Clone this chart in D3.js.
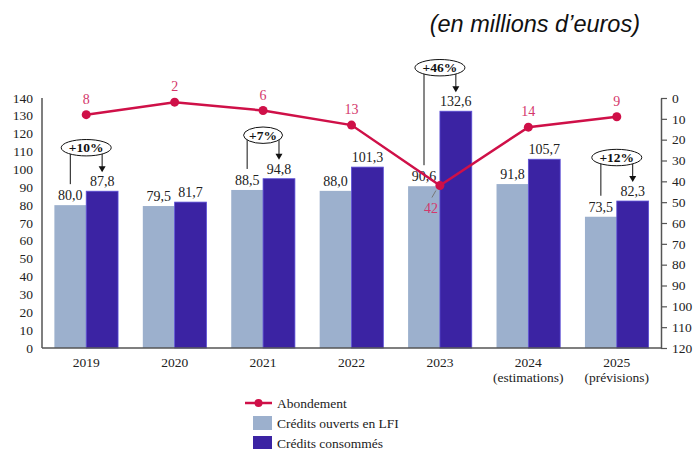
<!DOCTYPE html>
<html>
<head>
<meta charset="utf-8">
<script src="https://cdn.jsdelivr.net/npm/d3@7"></script>
<style>
  html, body { margin: 0; padding: 0; background: #fff; }
  svg { display: block; font-family: "Liberation Serif", "DejaVu Serif", serif; }
</style>
</head>
<body>
<div id="chart"></div>
<script>
// Crédits ouverts / consommés + abondement, 2019-2025

const years = ['2019', '2020', '2021', '2022', '2023', '2024', '2025'];
const yearSubLabels = ['', '', '', '', '', '(estimations)', '(prévisions)'];
const creditsLFI = [80.0, 79.5, 88.5, 88.0, 90.6, 91.8, 73.5];
const creditsConsommes = [87.8, 81.7, 94.8, 101.3, 132.6, 105.7, 82.3];
const abondement = [8, 2, 6, 13, 42, 14, 9];
const growthYears = ['2019', '2021', '2023', '2025'];
const growthLabels = ['+10%', '+7%', '+46%', '+12%'];
const leftTicks = d3.range(0, 141, 10);
const rightTicks = d3.range(0, 121, 10);

const COLORS = {
    lfi: '#9cb0cd',
    conso: '#3b23a3',
    line: '#cf1048',
    lineLabel: '#d4376b',
    axis: '#555',
    text: '#222'
};

const width = 693, height = 449;
const plot = { left: 42, right: 661, top: 98, bottom: 348 };

const svg = d3.select('#chart').append('svg')
    .attr('width', width)
    .attr('height', height);

const fmt = v => v.toFixed(1).replace('.', ',');

// Scales
const x0 = d3.scaleBand()
    .domain(years)
    .range([plot.left, plot.right])
    .paddingInner(0.28)
    .paddingOuter(0.14);

const x1 = d3.scaleBand()
    .domain(['lfi', 'conso'])
    .range([0, x0.bandwidth()]);

const yLeft = d3.scaleLinear().domain([0, 140]).range([plot.bottom, plot.top]);
const yRight = d3.scaleLinear().domain([0, 120]).range([plot.top, plot.bottom]);

const center = y => x0(y) + x0.bandwidth() / 2;

// Bars
const groups = svg.append('g').selectAll('g')
    .data(years.map((y, i) => ({ year: y, lfi: creditsLFI[i], conso: creditsConsommes[i] })))
    .join('g')
    .attr('transform', d => `translate(${x0(d.year)},0)`);

groups.append('rect')
    .attr('x', x1('lfi'))
    .attr('y', d => yLeft(d.lfi))
    .attr('width', x1.bandwidth())
    .attr('height', d => yLeft(0) - yLeft(d.lfi))
    .attr('fill', COLORS.lfi);

groups.append('rect')
    .attr('x', x1('conso'))
    .attr('y', d => yLeft(d.conso))
    .attr('width', x1.bandwidth())
    .attr('height', d => yLeft(0) - yLeft(d.conso))
    .attr('fill', COLORS.conso)
    .attr('stroke', '#5b4fd6')
    .attr('stroke-width', 0.8);

// Bar value labels
groups.append('text')
    .attr('x', x1('lfi') + x1.bandwidth() / 2)
    .attr('y', d => yLeft(d.lfi) - 5)
    .attr('text-anchor', 'middle')
    .attr('font-size', '14px')
    .attr('fill', COLORS.text)
    .text(d => fmt(d.lfi));

groups.append('text')
    .attr('x', x1('conso') + x1.bandwidth() / 2)
    .attr('y', d => yLeft(d.conso) - 5)
    .attr('text-anchor', 'middle')
    .attr('font-size', '14px')
    .attr('fill', COLORS.text)
    .text(d => fmt(d.conso));

// Axes
svg.append('line')
    .attr('x1', plot.left).attr('x2', plot.left)
    .attr('y1', plot.top).attr('y2', plot.bottom)
    .attr('stroke', COLORS.axis).attr('stroke-width', 1.5);

svg.append('g')
    .selectAll('text')
    .data(leftTicks)
    .join('text')
    .attr('x', 33)
    .attr('y', d => yLeft(d) + 4.5)
    .attr('text-anchor', 'end')
    .attr('font-size', '13.5px')
    .attr('fill', COLORS.text)
    .text(d => d);

const rightAxis = svg.append('g')
    .attr('transform', `translate(${plot.right},0)`)
    .call(d3.axisRight(yRight).tickValues(rightTicks).tickSize(6).tickPadding(5).tickSizeOuter(0));
rightAxis.select('.domain').attr('stroke', COLORS.axis).attr('stroke-width', 1.5);
rightAxis.selectAll('.tick line').attr('stroke', COLORS.axis).attr('stroke-width', 1.2);
rightAxis.selectAll('.tick text')
    .attr('font-family', '"Liberation Serif", serif')
    .attr('font-size', '13.5px')
    .attr('fill', COLORS.text);

svg.append('line')
    .attr('x1', plot.left).attr('x2', plot.right + 1)
    .attr('y1', plot.bottom).attr('y2', plot.bottom)
    .attr('stroke', COLORS.axis).attr('stroke-width', 1.5);

// Category labels
const xl = svg.append('g');
xl.selectAll('text.year')
    .data(years)
    .join('text')
    .attr('class', 'year')
    .attr('x', d => center(d))
    .attr('y', 367)
    .attr('text-anchor', 'middle')
    .attr('font-size', '13.5px')
    .attr('fill', COLORS.text)
    .text(d => d);
xl.selectAll('text.sub')
    .data(years.filter((y, i) => yearSubLabels[i]))
    .join('text')
    .attr('class', 'sub')
    .attr('x', d => center(d))
    .attr('y', 382)
    .attr('text-anchor', 'middle')
    .attr('font-size', '13.5px')
    .attr('fill', COLORS.text)
    .text(d => yearSubLabels[years.indexOf(d)]);

// Growth annotations
const ann = svg.append('g');
growthYears.forEach((yr, k) => {
    const i = years.indexOf(yr);
    const cx = center(yr);
    const lx = x0(yr) + x1('lfi') + x1.bandwidth() / 2;
    const dx = x0(yr) + x1('conso') + x1.bandwidth() / 2;
    const darkTop = yLeft(creditsConsommes[i]);
    const lightTop = yLeft(creditsLFI[i]);
    const cy = darkTop - 43.5;
    const rx = growthLabels[k].length > 3 ? 25 : 19.5;
    const ry = 8.2;

    ann.append('line')
        .attr('x1', lx).attr('x2', lx)
        .attr('y1', cy + ry * Math.sqrt(Math.max(0, 1 - ((lx - cx) / rx) ** 2)))
        .attr('y2', lightTop - 21)
        .attr('stroke', '#111').attr('stroke-width', 1);

    const ay1 = cy + ry * Math.sqrt(Math.max(0, 1 - ((dx - cx) / rx) ** 2));
    const tip = darkTop - 19;
    ann.append('line')
        .attr('x1', dx).attr('x2', dx)
        .attr('y1', ay1).attr('y2', tip - 5)
        .attr('stroke', '#111').attr('stroke-width', 1);
    ann.append('path')
        .attr('d', `M${dx - 3.5},${tip - 6} L${dx + 3.5},${tip - 6} L${dx},${tip} Z`)
        .attr('fill', '#111');

    ann.append('ellipse')
        .attr('cx', cx).attr('cy', cy)
        .attr('rx', rx).attr('ry', ry)
        .attr('fill', '#fff')
        .attr('stroke', '#111').attr('stroke-width', 1);
    ann.append('text')
        .attr('x', cx).attr('y', cy + 4.7)
        .attr('text-anchor', 'middle')
        .attr('font-size', '13.5px')
        .attr('font-weight', 'bold')
        .attr('fill', '#111')
        .text(growthLabels[k]);
});

// Abondement line
const lineData = years.map((y, i) => ({ year: y, v: abondement[i] }));
svg.append('path')
    .datum(lineData)
    .attr('fill', 'none')
    .attr('stroke', COLORS.line)
    .attr('stroke-width', 2.5)
    .attr('d', d3.line().x(d => center(d.year)).y(d => yRight(d.v)));

svg.append('g').selectAll('circle')
    .data(lineData)
    .join('circle')
    .attr('cx', d => center(d.year))
    .attr('cy', d => yRight(d.v))
    .attr('r', 4.5)
    .attr('fill', COLORS.line);

// value labels: above, except the peak which sits below with a small leader
const maxV = d3.max(abondement);
svg.append('g').selectAll('text')
    .data(lineData)
    .join('text')
    .attr('x', d => center(d.year) - (d.v === maxV ? 9 : 0))
    .attr('y', d => d.v === maxV ? yRight(d.v) + 27 : yRight(d.v) - 11)
    .attr('text-anchor', 'middle')
    .attr('font-size', '14px')
    .attr('fill', COLORS.lineLabel)
    .text(d => d.v);

const peak = lineData.find(d => d.v === maxV);
svg.append('line')
    .attr('x1', center(peak.year) - 8).attr('y1', yRight(peak.v) + 12)
    .attr('x2', center(peak.year) - 4).attr('y2', yRight(peak.v) + 5)
    .attr('stroke', '#777').attr('stroke-width', 1);

// Unit title
svg.append('text')
    .attr('x', 640)
    .attr('y', 32)
    .attr('text-anchor', 'end')
    .attr('font-family', '"Liberation Sans", Arial, sans-serif')
    .attr('font-style', 'italic')
    .attr('font-size', '23.5px')
    .attr('fill', '#111')
    .text('(en millions d’euros)');

// Legend
const legend = svg.append('g').attr('transform', 'translate(245,403)');
legend.append('line')
    .attr('x1', 0).attr('x2', 27).attr('y1', 0).attr('y2', 0)
    .attr('stroke', COLORS.line).attr('stroke-width', 2.5);
legend.append('circle')
    .attr('cx', 13.5).attr('cy', 0).attr('r', 4)
    .attr('fill', COLORS.line);
legend.append('text')
    .attr('x', 32).attr('y', 4.5)
    .attr('font-size', '13.5px').attr('fill', COLORS.text)
    .text('Abondement');

[['Crédits ouverts en LFI', COLORS.lfi], ['Crédits consommés', COLORS.conso]].forEach(([label, color], i) => {
    const row = legend.append('g').attr('transform', `translate(0, ${20 + i * 20})`);
    row.append('rect')
        .attr('x', 8).attr('y', -7)
        .attr('width', 19).attr('height', 14)
        .attr('fill', color);
    row.append('text')
        .attr('x', 32).attr('y', 4.5)
        .attr('font-size', '13.5px').attr('fill', COLORS.text)
        .text(label);
});
</script>
</body>
</html>
